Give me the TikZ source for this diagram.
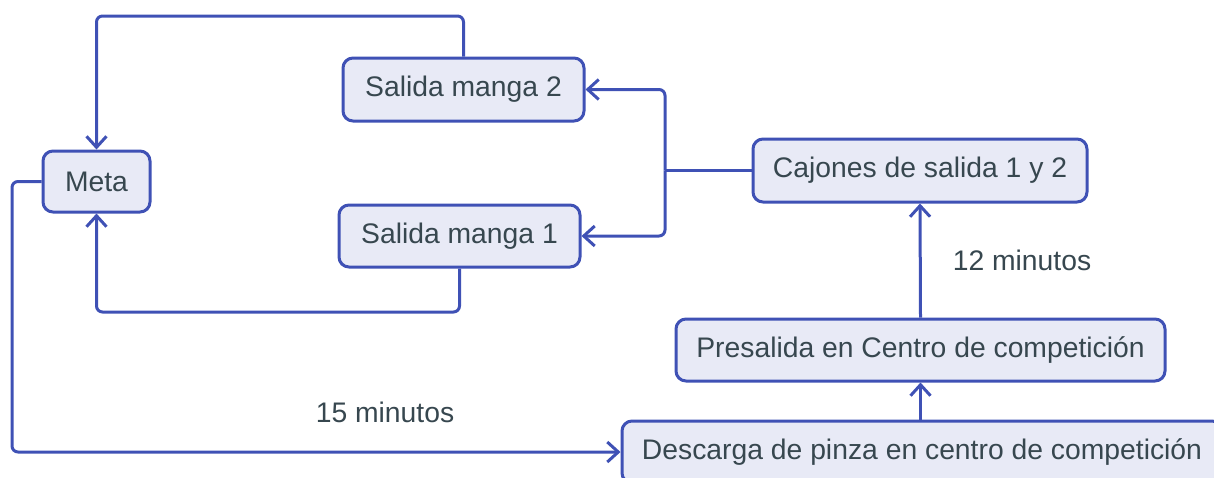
\documentclass[tikz,border=0pt]{standalone}
\usepackage{fontspec}
\setmainfont{Liberation Sans}
\usetikzlibrary{arrows.meta}
\definecolor{edgec}{HTML}{3F51B5}
\definecolor{fillc}{HTML}{E8EAF6}
\definecolor{textc}{HTML}{37474F}
\tikzset{
  box/.style={draw=edgec, fill=fillc, line width=3pt, rounded corners=10pt, inner sep=0pt,
    text=textc, font=\fontsize{28.3}{33}\selectfont, anchor=center},
  conn/.style={draw=edgec, line width=3pt, rounded corners=6pt,
    -{Straight Barb[length=11pt,width=20pt]}},
  plain/.style={draw=edgec, line width=3pt, rounded corners=6pt},
  lbl/.style={text=textc, font=\fontsize{28.3}{33}\selectfont, inner sep=0pt}
}
\begin{document}
\begin{tikzpicture}[x=1pt,y=-1pt]
\useasboundingbox (0,0) rectangle (1214,477);
\node[box, minimum width=107pt, minimum height=61pt] (meta) at (96.5,181.5) {Meta};
\node[box, minimum width=241pt, minimum height=63pt] (s2) at (463.5,89.5) {Salida manga 2};
\node[box, minimum width=241pt, minimum height=62pt] (s1) at (459.5,236) {Salida manga 1};
\node[box, minimum width=334pt, minimum height=63pt] (caj) at (920,170.5) {Cajones de salida 1 y 2};
\node[box, minimum width=489pt, minimum height=62pt] (pre) at (920.5,350) {Presalida en Centro de competición};
\node[box, minimum width=600pt, minimum height=62pt] (des) at (922,452) {Descarga de pinza en centro de competición};
\node[lbl] (l12) at (1022,260) {12 minutos};
\node[lbl] (l15) at (385,412) {15 minutos};
\coordinate (j) at (665,170.5);
\draw[conn] (s2.north) |- (280,16) -| (meta.north);
\draw[conn] (s1.south) |- (280,312) -| (meta.south);
\draw[conn] (meta.west) -| (12,300) |- (des.west);
\draw[conn] (des.north -| pre.south) -- (pre.south);
\draw[conn] (pre.north) -- (caj.south);
\draw[plain] (caj.west) -- (j);
\draw[conn] (j) |- (s2.east);
\draw[conn] (j) |- (s1.east);
\end{tikzpicture}
\end{document}
